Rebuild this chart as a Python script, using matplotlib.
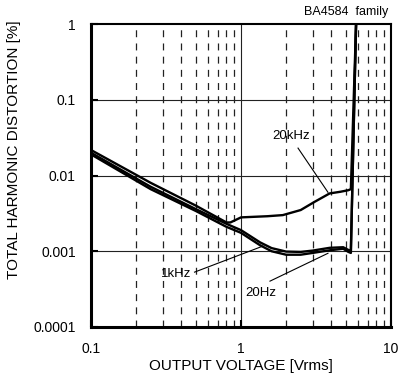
import matplotlib

matplotlib.use("Agg")
import matplotlib.pyplot as plt
from matplotlib.ticker import FixedLocator, NullFormatter

plt.rcParams["font.family"] = ["Liberation Sans", "DejaVu Sans"]
plt.rcParams["lines.scale_dashes"] = False

# data (output voltage [Vrms], THD [%])
volt_20k = [0.1, 0.25, 0.5, 0.8, 0.85, 1.0, 1.5, 1.9, 2.5, 3.1, 3.9, 4.6, 5.2, 5.4, 5.85]
thd_20k = [0.0217, 0.0080, 0.0040, 0.0024, 0.0024, 0.0028, 0.0029, 0.0030, 0.0035,
           0.0045, 0.0058, 0.0061, 0.0064, 0.0066, 1.0]

volt_1k = [0.1, 0.25, 0.5, 0.8, 1.0, 1.34, 1.6, 2.0, 2.5, 3.0, 3.9, 4.8, 5.2, 5.4, 5.85]
thd_1k = [0.0200, 0.0071, 0.0036, 0.0023, 0.0019, 0.00131, 0.00110, 0.00099, 0.00098,
          0.00102, 0.00111, 0.00113, 0.00104, 0.00101, 1.0]

volt_20 = [0.1, 0.25, 0.5, 0.8, 1.0, 1.34, 1.6, 2.0, 2.5, 3.0, 3.9, 4.8, 5.2, 5.4, 5.85]
thd_20 = [0.0190, 0.0066, 0.0034, 0.0021, 0.00175, 0.00120, 0.00100, 0.00090, 0.00090,
          0.00095, 0.00103, 0.00108, 0.00098, 0.00095, 1.0]

# label text position and leader line ends
labels = ["20kHz", "1kHz", "20Hz"]
label_xy = [(2.17, 0.033), (0.369, 0.0005), (1.36, 0.00028)]
leaders = [((2.4, 0.023), (3.8, 0.0060)),
           ((0.49, 0.00053), (1.40, 0.00117)),
           ((1.56, 0.000403), (3.8, 0.00094))]

x_ticks = [0.1, 1, 10]
y_ticks = [0.0001, 0.001, 0.01, 0.1, 1]
x_tick_labels = ["0.1", "1", "10"]
y_tick_labels = ["0.0001", "0.001", "0.01", "0.1", "1"]


def main() -> None:
    fig = plt.figure(figsize=(3.98, 3.78), dpi=100)
    ax = fig.add_axes([91 / 398, 51 / 378, 300 / 398, 303 / 378])

    ax.set_xscale("log")
    ax.set_yscale("log")
    ax.set_xlim(0.1, 10)
    ax.set_ylim(0.0001, 1)

    # grid
    for y in y_ticks[1:-1]:
        ax.axhline(y, color="#222222", linewidth=0.8, zorder=1)
    ax.axvline(1, color="#222222", linewidth=0.8, zorder=1)
    minor_x = [m * d for d in (0.1, 1) for m in range(2, 10)]
    for x in minor_x:
        ax.axvline(x, color="#222222", linewidth=0.9, linestyle=(0, (5, 4.5)), zorder=1)

    for v, t in ((volt_20k, thd_20k), (volt_1k, thd_1k), (volt_20, thd_20)):
        ax.plot(v, t, color="black", linewidth=1.7, zorder=3, solid_joinstyle="round")

    for text, (tx, ty), (p0, p1) in zip(labels, label_xy, leaders):
        ax.text(tx, ty, text, fontsize=9.5, ha="center", va="center", zorder=4)
        ax.plot([p0[0], p1[0]], [p0[1], p1[1]], color="black", linewidth=0.8, zorder=2)

    ax.xaxis.set_major_locator(FixedLocator(x_ticks))
    ax.yaxis.set_major_locator(FixedLocator(y_ticks))
    ax.xaxis.set_minor_formatter(NullFormatter())
    ax.yaxis.set_minor_formatter(NullFormatter())
    ax.set_xticklabels(x_tick_labels)
    ax.set_yticklabels(y_tick_labels)
    ax.tick_params(which="minor", length=0)
    ax.tick_params(which="major", direction="in", length=5, width=1.5,
                   labelsize=10, pad=11)

    for side in ("left", "bottom"):
        ax.spines[side].set_linewidth(2.2)
    for side in ("top", "right"):
        ax.spines[side].set_linewidth(1.5)

    fig.text(241 / 398, 1 - 366 / 378, "OUTPUT VOLTAGE [Vrms]", fontsize=11,
             ha="center", va="center")
    fig.text(14 / 398, 1 - 150 / 378, "TOTAL HARMONIC DISTORTION [%]", fontsize=11,
             family=["Liberation Sans Narrow", "Liberation Sans"],
             rotation=90, ha="center", va="center")
    fig.text(388 / 398, 1 - 12 / 378, "BA4584  family", fontsize=9,
             ha="right", va="center")

    fig.savefig("out.png", dpi=100)
    plt.close(fig)


if __name__ == "__main__":
    main()
